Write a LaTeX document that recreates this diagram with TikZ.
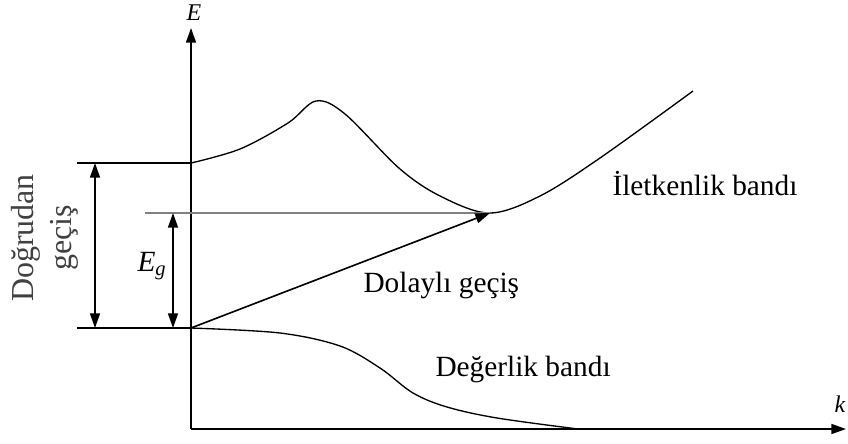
\documentclass[tikz,border=0pt]{standalone}
\usepackage{fontspec}
\setmainfont{Liberation Serif}
\usetikzlibrary{arrows.meta}

\tikzset{every picture/.style={line width=0.75pt}}
\tikzset{
  label text/.style={font=\fontsize{22}{26}\selectfont, inner sep=0pt},
  tri/.style={-{Triangle[length=11pt,width=7.5pt]}},
  dbl tri/.style={{Triangle[length=11pt,width=7.5pt]}-{Triangle[length=11pt,width=7.5pt]}}
}

\begin{document}
\begin{tikzpicture}[x=0.75pt,y=0.75pt,yscale=-1,xscale=1]
\useasboundingbox (0,0) rectangle (848,443);

% axes
\coordinate (orig) at (191,429);
\coordinate (etop) at (191,28);
\coordinate (kend) at (846,429);
\draw [tri, line width=1.2pt] (orig) -- (etop);
\draw [tri, line width=1.2pt] (orig) -- (kend);

% Text Node
\node (elab) [font=\fontsize{18}{20}\selectfont, inner sep=0pt] at (194,13) {\textit{E}};
% Text Node
\node (klab) [font=\fontsize{18}{20}\selectfont, inner sep=0pt] at (840,404) {\textit{k}};

% band edges
\coordinate (cbtop) at (191,163);
\coordinate (vbtop) at (191,328);
\coordinate (cbmin) at (490,213);

%Shape: Curve [conduction band]
\draw [line width=1pt] plot [smooth, tension=0.55] coordinates {(cbtop) (240,149) (288,123) (316,101) (345,114) (400,169) (442,197) (cbmin) (540,196) (600,158) (693,91)};
%Shape: Curve [valence band]
\draw [line width=1pt] plot [smooth, tension=0.55] coordinates {(vbtop) (280,333) (340,346) (380,368) (413,393) (447,407) (497,418) (578,429)};

% left guide lines
\coordinate (ctl) at (77,163);
\coordinate (vbl) at (77,328);
\coordinate (gapl) at (145,213);
\draw [line width=1.2pt] (ctl) -- (cbtop);
\draw [line width=1.2pt] (vbl) -- (vbtop);
\draw [color=gray, line width=1pt] (gapl) -- (cbmin);

% transitions
\draw [tri, line width=1.2pt] (vbtop) -- (cbmin);
\coordinate (dt) at (95,163);
\coordinate (db) at (95,328);
\draw [dbl tri, line width=1.2pt] (dt) -- (db);
\coordinate (gt) at (173,213);
\coordinate (gb) at (173,328);
\draw [dbl tri, line width=1.2pt] (gt) -- (gb);

% Text Node
\node (eg) [label text] at (152,266) {\textit{E\textsubscript{g}}};
% Text Node
\node (dogrudan) [rotate=90, align=center, inner sep=0pt, color=black!75, font=\fontsize{24}{28}\selectfont] at (45,238) {Doğrudan\\geçiş};
% Text Node
\node (iletken) [label text, anchor=base west] at (612,195) {İletkenlik bandı};
% Text Node
\node (dolayli) [label text, anchor=base west] at (363,292) {Dolaylı geçiş};
% Text Node
\node (degerlik) [label text, anchor=base west] at (435,376) {Değerlik bandı};

\end{tikzpicture}
\end{document}
